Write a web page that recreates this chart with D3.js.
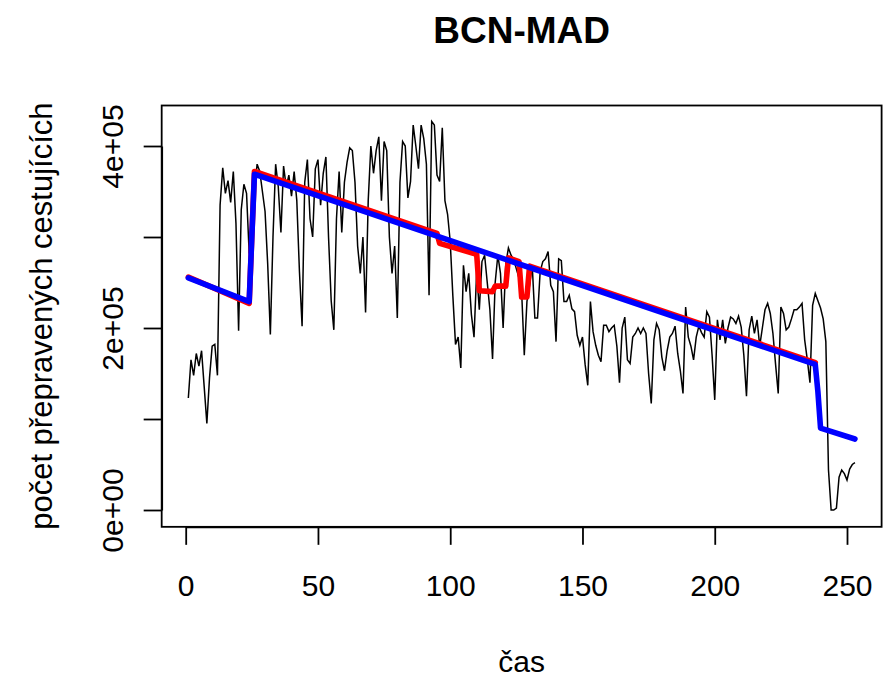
<!DOCTYPE html>
<html>
<head>
<meta charset="utf-8">
<script src="https://cdn.jsdelivr.net/npm/d3@7"></script>
<style>
  body { margin: 0; background: #fff; }
  text { font-family: "Liberation Sans", Arial, sans-serif; fill: #000; }
</style>
</head>
<body>
<script>
// Passengers per month, thousands, months 1..253
const passengers = [
  123, 165, 148, 172, 158, 175, 135,  95, 145, 180, 182, 148,
  335, 376, 348, 362, 338, 372, 315, 197, 330, 358, 348, 282,
  330, 352, 380, 372, 350, 328, 270, 193, 300, 380, 355, 305,
  378, 355, 368, 345, 372, 340, 262, 202, 360, 385, 320, 300,
  375, 385, 335, 370, 388, 300, 230, 198, 320, 372, 305, 360,
  382, 398, 395, 360, 290, 260, 300, 217, 340, 400, 370, 395,
  410, 340, 405, 395, 300, 260, 290, 211, 360, 405, 400, 343,
  361, 423, 400, 375, 423, 408, 380, 236, 427, 423, 368, 361,
  420, 340, 325, 295, 235, 182, 190, 156, 269, 240, 260, 215,
  190, 262, 220, 273, 280, 250, 220, 166, 250, 280, 260, 200,
  270, 288, 280, 275, 265, 255, 240, 170, 229, 247, 269, 211,
  211, 262, 273, 276, 284, 247, 240, 185, 276, 274, 229, 229,
  236, 221, 218, 192, 181, 190, 160, 137, 229, 196, 181, 170,
  163, 203, 203, 196, 200, 203, 180, 140, 200, 212, 165, 161,
  190, 194, 200, 194, 200, 194, 150, 117, 187, 205, 198, 168,
  153, 175, 190, 194, 202, 172, 153, 128, 223, 190, 180, 165,
  190, 202, 195, 190, 218, 212, 170, 121, 209, 187, 209, 183,
  200, 212, 210, 205, 213, 201, 170, 125, 198, 213, 194, 209,
  180, 200, 220, 227, 216, 194, 160, 128, 223, 216, 198, 201,
  210, 220, 220, 223, 227, 187, 165, 140, 225, 238, 230, 222,
  210, 185,  44,   0,   0,   2,  36,  44,  40,  33,  45,  50,
  52
];

// Fitted model (blue) - month and value (thousands) at its vertices
const blueMonth = [1, 24, 25, 26, 238, 239, 240, 253];
const blueValue = [255, 229, 300, 369, 160, 130, 90, 78];

// Second model (red)
const redMonth = [1, 24, 25, 26, 95, 96, 110, 111, 116, 117, 121, 122, 126, 127, 129, 130, 238];
const redValue = [256, 227, 301, 372, 304, 293, 281, 241, 240, 246, 246, 277, 273, 234, 234, 268, 162];

const xTicks = [0, 50, 100, 150, 200, 250];
const yTicks = [0, 100000, 200000, 300000, 400000];
const yTickLabels = ["0e+00", "", "2e+05", "", "4e+05"];

const width = 885, height = 679;

const svg = d3.select("body").append("svg")
    .attr("width", width)
    .attr("height", height);

// Scales (pixel anchors taken from the tick positions)
let x = d3.scaleLinear().domain([0, 250]).range([185.7, 847]);
let y = d3.scaleLinear().domain([0, 400000]).range([510, 146]);

// plot region = data range padded by 4% like R does
let boxLeft = x(-9.08), boxRight = x(263.08),
    boxTop = y(444500), boxBottom = y(-18500);

let toPoints = (ts, vs) => ts.map((t, i) => ({t: t, v: vs[i] * 1000}));
let black = passengers.map((v, i) => ({t: i + 1, v: v * 1000}));
let red = toPoints(redMonth, redValue);
let blue = toPoints(blueMonth, blueValue);

let line = d3.line()
    .x(d => x(d.t))
    .y(d => y(d.v));

// Series
svg.append("path")
    .datum(black)
    .attr("fill", "none")
    .attr("stroke", "#000")
    .attr("stroke-width", 1.5)
    .attr("d", line);

svg.append("path")
    .datum(red)
    .attr("fill", "none")
    .attr("stroke", "#ff0000")
    .attr("stroke-width", 5.6)
    .attr("stroke-linejoin", "round")
    .attr("stroke-linecap", "round")
    .attr("d", line);

svg.append("path")
    .datum(blue)
    .attr("fill", "none")
    .attr("stroke", "#0000ff")
    .attr("stroke-width", 5.6)
    .attr("stroke-linejoin", "round")
    .attr("stroke-linecap", "round")
    .attr("d", line);

// Box
svg.append("rect")
    .attr("x", boxLeft)
    .attr("y", boxTop)
    .attr("width", boxRight - boxLeft)
    .attr("height", boxBottom - boxTop)
    .attr("fill", "none")
    .attr("stroke", "#000")
    .attr("stroke-width", 1.8);

// X axis
let gx = svg.append("g")
    .attr("transform", "translate(0," + boxBottom + ")")
    .style("color", "#000")
    .call(d3.axisBottom(x).tickValues(xTicks).tickSize(18).tickSizeOuter(0).tickFormat(d3.format("d")));
gx.selectAll("path, line").attr("stroke-width", 1.8);
gx.selectAll("text")
    .attr("y", 69)
    .attr("dy", null)
    .style("font-size", "30px");

// Y axis
let gy = svg.append("g")
    .attr("transform", "translate(" + boxLeft + ",0)")
    .style("color", "#000")
    .call(d3.axisLeft(y).tickValues(yTicks).tickSize(18).tickSizeOuter(0)
      .tickFormat((d, i) => yTickLabels[i]));
gy.selectAll("path, line").attr("stroke-width", 1.8);
gy.selectAll("text")
    .attr("x", null)
    .attr("dy", null)
    .attr("text-anchor", "middle")
    .attr("transform", "translate(-39,0) rotate(-90)")
    .style("font-size", "30px");

// Titles
svg.append("text")
    .attr("x", (boxLeft + boxRight) / 2)
    .attr("y", 43)
    .attr("text-anchor", "middle")
    .style("font-size", "37px")
    .style("font-weight", "bold")
    .text("BCN-MAD");

svg.append("text")
    .attr("x", (boxLeft + boxRight) / 2)
    .attr("y", 672)
    .attr("text-anchor", "middle")
    .style("font-size", "30px")
    .text("čas");

svg.append("text")
    .attr("transform", "translate(52," + (boxTop + boxBottom) / 2 + ") rotate(-90)")
    .attr("text-anchor", "middle")
    .style("font-size", "31px")
    .text("počet přepravených cestujících");
</script>
</body>
</html>
